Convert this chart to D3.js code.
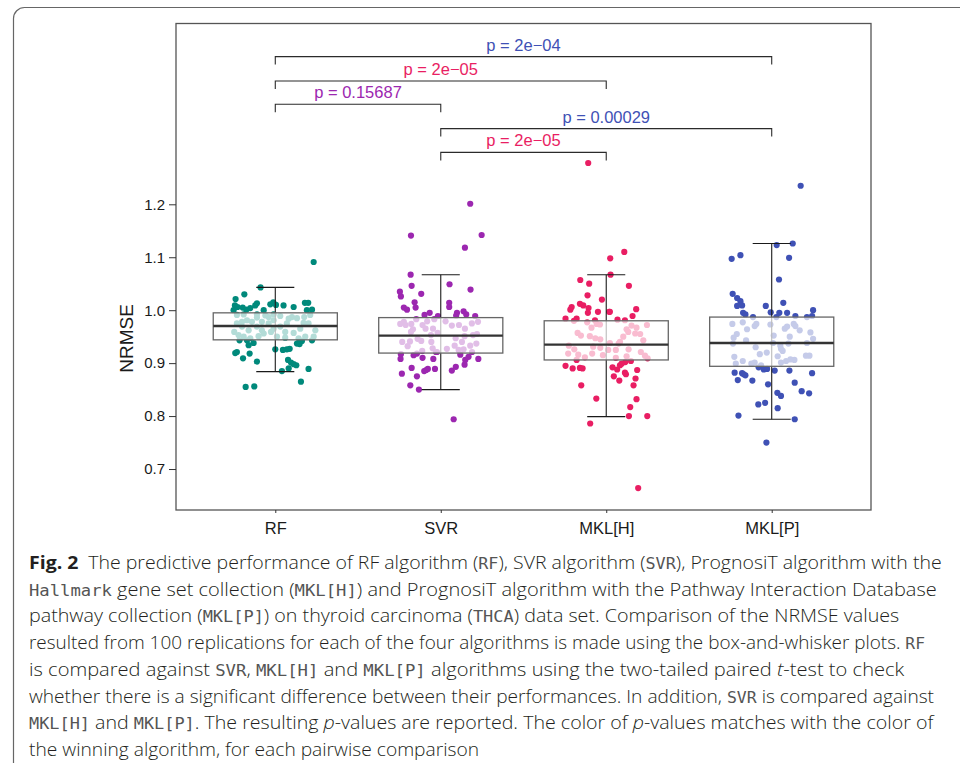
<!DOCTYPE html>
<html>
<head>
<meta charset="utf-8">
<script src="https://cdn.jsdelivr.net/npm/d3@7"></script>
<style>
  body { margin: 0; background: #fff; }
  svg { display: block; }
</style>
</head>
<body>
<svg id="chart" width="960" height="763"></svg>
<script>
var groups = ["RF", "SVR", "MKL[H]", "MKL[P]"];
var groupColors = ["#00897b", "#9c27b0", "#e91e63", "#3f51b5"];

// box-and-whisker stats
var boxQ1 = [0.944, 0.919, 0.906, 0.894];
var boxMedian = [0.970, 0.952, 0.935, 0.938];
var boxQ3 = [0.995, 0.986, 0.980, 0.987];
var whiskerLow = [0.884, 0.850, 0.799, 0.794];
var whiskerHigh = [1.043, 1.067, 1.067, 1.126];

// replications: [jitter (share of band step), NRMSE]
var rfPoints = [[0.232,1.091],[-0.089,1.043],[-0.187,1.030],[-0.240,1.021],[-0.244,1.009],[-0.228,1.006],[-0.197,1.005],[-0.175,1.001],[-0.151,1.004],[-0.121,1.009],[-0.111,1.013],[-0.030,1.011],[-0.012,1.015],[0.004,1.010],[0.050,1.009],[0.111,1.006],[0.179,1.014],[0.199,1.014],[0.191,1.000],[0.222,1.001],[-0.070,1.000],[-0.252,1.000],
  [-0.232,0.991],[-0.191,0.992],[-0.111,0.992],[-0.060,0.990],[-0.010,0.992],[0.030,0.989],[0.101,0.987],[0.131,0.985],[0.171,0.976],[0.201,0.975],[0.242,0.962],[0.232,0.950],[0.181,0.950],[0.141,0.947],[0.111,0.957],[0.060,0.959],[0.070,0.975],[0.030,0.969],[-0.010,0.981],[-0.040,0.975],[-0.081,0.978],[-0.111,0.986],[-0.141,0.978],[-0.171,0.981],[-0.201,0.978],[-0.232,0.975],[-0.248,0.959],[-0.222,0.953],[-0.191,0.950],[-0.151,0.947],[-0.101,0.951],[-0.070,0.956],[-0.026,0.959],[0.010,0.950],[0.060,0.948],[0.151,0.965],[-0.111,0.969],[-0.081,0.962],[-0.010,0.965],[0.081,0.984],[-0.040,0.987],[-0.201,0.969],[-0.161,0.962],[0.211,0.991],[0.175,0.987],
  [-0.232,0.921],[-0.242,0.919],[-0.155,0.918],[-0.195,0.909],[-0.111,0.903],[-0.161,0.934],[-0.131,0.938],[0.000,0.926],[0.046,0.925],[0.070,0.926],[0.087,0.927],[0.131,0.937],[0.147,0.936],[0.161,0.942],[0.077,0.906],[0.095,0.901],[0.111,0.898],[0.127,0.896],[0.081,0.890],[0.040,0.885],[0.201,0.889],[0.155,0.865],[-0.179,0.855],[-0.127,0.856],[-0.171,0.943],[-0.216,0.943],[0.222,0.943]];

var svrPoints = [[0.178,1.201],[-0.180,1.141],[0.247,1.142],[0.146,1.118],[-0.182,1.067],[0.053,1.049],[-0.176,1.046],[0.180,1.039],[-0.247,1.035],[-0.241,1.026],[-0.118,1.031],[-0.158,1.015],[-0.152,1.005],[-0.223,1.005],[-0.204,1.001],[0.051,1.014],[0.051,1.006],[-0.098,0.991],[-0.067,0.995],[0.098,0.995],[0.093,0.990],[0.138,0.998],[0.154,0.992],[0.208,0.989],
  [-0.245,0.974],[-0.223,0.978],[-0.212,0.972],[-0.178,0.974],[-0.168,0.964],[-0.180,0.959],[-0.148,0.983],[-0.110,0.972],[-0.092,0.965],[-0.082,0.979],[-0.039,0.983],[-0.047,0.965],[-0.019,0.957],[-0.059,0.953],[-0.233,0.940],[-0.200,0.932],[-0.186,0.941],[-0.140,0.946],[-0.118,0.942],[-0.057,0.940],[-0.049,0.928],[-0.112,0.923],[0.029,0.979],[0.067,0.971],[0.110,0.972],[0.146,0.965],[0.188,0.975],[0.225,0.978],[0.219,0.955],[0.195,0.953],[0.144,0.951],[0.090,0.947],[0.128,0.940],[0.178,0.933],[0.215,0.937],[0.084,0.933],[0.108,0.925],[0.037,0.927],[0.138,0.926],[-0.023,0.921],
  [-0.241,0.917],[-0.243,0.908],[-0.144,0.918],[-0.110,0.910],[-0.045,0.908],[-0.176,0.891],[-0.235,0.880],[-0.144,0.875],[-0.100,0.885],[-0.078,0.889],[-0.035,0.889],[-0.184,0.858],[-0.132,0.850],[0.078,0.794],[0.067,0.886],[0.091,0.893],[0.144,0.897],[0.148,0.906],[0.168,0.912],[0.227,0.908],[0.118,0.916],[0.189,0.921],[-0.029,0.921],[-0.088,0.887],[-0.164,0.915],[-0.017,0.989]];

var mklhPoints = [[-0.109,1.278],[0.109,1.110],[0.024,1.098],[0.026,1.067],[-0.157,1.057],[-0.103,1.050],[0.137,1.046],[-0.113,1.028],[-0.026,1.020],[-0.209,1.006],[-0.217,1.001],[-0.159,1.012],[-0.139,1.009],[-0.107,1.004],[-0.111,0.995],[-0.050,0.997],[0.018,0.997],[0.181,1.002],[0.159,0.989],[-0.246,0.984],[-0.179,0.984],[-0.068,0.981],[0.068,0.982],[0.113,0.981],
  [-0.195,0.980],[-0.115,0.977],[-0.089,0.967],[-0.058,0.974],[-0.038,0.973],[-0.173,0.957],[-0.153,0.952],[-0.099,0.951],[-0.066,0.947],[-0.036,0.945],[0.022,0.938],[-0.226,0.933],[-0.193,0.926],[-0.230,0.918],[-0.169,0.916],[-0.129,0.911],[-0.079,0.931],[-0.085,0.918],[-0.036,0.929],[-0.020,0.915],[0.012,0.925],[0.058,0.925],[0.058,0.910],[0.083,0.940],[0.103,0.950],[0.123,0.964],[0.133,0.959],[0.153,0.971],[0.175,0.956],[0.205,0.955],[0.183,0.967],[0.246,0.972],[0.224,0.943],[0.135,0.926],[0.123,0.913],[0.209,0.921],[0.234,0.914],[0.250,0.909],[0.075,0.937],
  [-0.246,0.895],[-0.203,0.890],[-0.159,0.891],[-0.143,0.890],[-0.179,0.906],[0.038,0.892],[0.066,0.888],[0.046,0.875],[0.079,0.867],[0.083,0.896],[0.113,0.882],[0.119,0.879],[0.115,0.902],[0.149,0.904],[0.187,0.887],[0.177,0.871],[0.165,0.858],[-0.151,0.858],[-0.060,0.833],[0.183,0.832],[0.145,0.817],[0.137,0.800],[0.248,0.800],[-0.097,0.786],[0.193,0.664],[0.022,0.997],[0.093,0.899]];

var mklpPoints = [[0.175,1.235],[0.030,1.123],[0.127,1.126],[-0.189,1.104],[-0.242,1.097],[0.105,1.099],[0.044,1.058],[-0.236,1.031],[-0.209,1.023],[-0.189,1.017],[-0.209,1.008],[-0.179,1.009],[-0.036,1.008],[0.070,1.014],[-0.173,0.995],[-0.159,0.992],[-0.006,0.996],[0.046,0.995],[0.093,0.995],[0.143,0.989],[0.213,0.987],[0.250,1.000],[0.244,0.989],
  [-0.238,0.974],[-0.175,0.977],[-0.113,0.987],[-0.103,0.970],[-0.093,0.974],[-0.149,0.964],[-0.211,0.955],[-0.230,0.948],[-0.234,0.937],[-0.155,0.943],[-0.097,0.930],[-0.072,0.917],[-0.030,0.920],[-0.226,0.912],[-0.217,0.899],[-0.175,0.904],[-0.123,0.899],[-0.103,0.901],[-0.064,0.896],[-0.008,0.973],[0.028,0.987],[0.012,0.952],[0.008,0.938],[0.052,0.933],[0.066,0.923],[0.036,0.913],[0.056,0.901],[0.079,0.965],[0.093,0.969],[0.109,0.950],[0.101,0.937],[0.133,0.974],[0.143,0.970],[0.169,0.962],[0.234,0.958],[0.250,0.946],[0.213,0.938],[0.207,0.914],[0.228,0.914],[0.087,0.904],[0.113,0.907],[0.137,0.906],[0.056,0.927],
  [-0.224,0.882],[-0.205,0.868],[-0.179,0.881],[-0.159,0.877],[-0.117,0.867],[-0.079,0.892],[-0.048,0.888],[-0.028,0.889],[-0.022,0.860],[0.018,0.886],[0.107,0.886],[0.139,0.863],[0.244,0.881],[0.034,0.844],[0.056,0.838],[0.181,0.847],[0.226,0.843],[-0.040,0.825],[-0.081,0.822],[0.036,0.815],[-0.201,0.801],[0.139,0.794],[-0.032,0.750],[-0.169,0.879]];

var pointSets = [rfPoints, svrPoints, mklhPoints, mklpPoints];

var yTicks = [0.7, 0.8, 0.9, 1.0, 1.1, 1.2];

// paired t-test comparisons
var compFrom = ["RF", "RF", "RF", "SVR", "SVR"];
var compTo = ["MKL[P]", "MKL[H]", "SVR", "MKL[P]", "MKL[H]"];
var compWinner = ["MKL[P]", "MKL[H]", "SVR", "MKL[P]", "MKL[H]"];
var compLabel = ["2e\u221204", "2e\u221205", "0.15687", "0.00029", "2e\u221205"];
var compY = [1.479, 1.433, 1.389, 1.343, 1.298];

var captionLines = [
  [["b", "Fig. 2"], ["r", "The predictive performance of RF algorithm (", 9], ["m", "RF"], ["r", "), SVR algorithm ("], ["m", "SVR"], ["r", "), PrognosiT algorithm with the"]],
  [["m", "Hallmark"], ["r", " gene set collection ("], ["m", "MKL[H]"], ["r", ") and PrognosiT algorithm with the Pathway Interaction Database"]],
  [["r", "pathway collection ("], ["m", "MKL[P]"], ["r", ") on thyroid carcinoma ("], ["m", "THCA"], ["r", ") data set. Comparison of the NRMSE values"]],
  [["r", "resulted from 100 replications for each of the four algorithms is made using the box-and-whisker plots. "], ["m", "RF"]],
  [["r", "is compared against "], ["m", "SVR"], ["r", ", "], ["m", "MKL[H]"], ["r", " and "], ["m", "MKL[P]"], ["r", " algorithms using the two-tailed paired "], ["i", "t"], ["r", "-test to check"]],
  [["r", "whether there is a significant difference between their performances. In addition, "], ["m", "SVR"], ["r", " is compared against"]],
  [["m", "MKL[H]"], ["r", " and "], ["m", "MKL[P]"], ["r", ". The resulting "], ["i", "p"], ["r", "-values are reported. The color of "], ["i", "p"], ["r", "-values matches with the color of"]],
  [["r", "the winning algorithm, for each pairwise comparison"]]
];
var captionEnds = [941.7, 936.7, 899.3, 925, 904.3, 934, 933.3, 479];

var svg = d3.select("#chart");
var margin = { top: 23.5, right: 89, bottom: 253, left: 176 };
var width = 960 - margin.left - margin.right;
var height = 763 - margin.top - margin.bottom;

// outer figure frame (rounded corner)
svg.append("rect")
  .attr("x", 13.5).attr("y", 7.5)
  .attr("width", 1000).attr("height", 800)
  .attr("rx", 11)
  .attr("fill", "none")
  .attr("stroke", "#666")
  .attr("stroke-width", 1.2);

var g = svg.append("g")
  .attr("transform", "translate(" + margin.left + "," + margin.top + ")");

var x = d3.scalePoint().domain(groups).range([0, width]).padding(0.6);
var step = x.step();
var y = d3.scaleLinear().domain([0.6226, 1.5415]).range([height, 0]);

// jittered points
pointSets.forEach(function(pts, i) {
  g.append("g").selectAll("circle")
    .data(pts)
    .enter()
    .append("circle")
    .attr("cx", d => x(groups[i]) + d[0] * step)
    .attr("cy", d => y(d[1]))
    .attr("r", 3.1)
    .attr("fill", groupColors[i]);
});

// whiskers with caps
var capHalf = 0.115 * step;
var boxHalf = 0.375 * step;
groups.forEach(function(grp, i) {
  var cx = x(grp);
  var wg = g.append("g").attr("stroke", "#1a1a1a").attr("stroke-width", 1.1);
  wg.append("line").attr("x1", cx).attr("x2", cx).attr("y1", y(whiskerLow[i])).attr("y2", y(whiskerHigh[i]));
  wg.append("line").attr("x1", cx - capHalf).attr("x2", cx + capHalf).attr("y1", y(whiskerLow[i])).attr("y2", y(whiskerLow[i]));
  wg.append("line").attr("x1", cx - capHalf).attr("x2", cx + capHalf).attr("y1", y(whiskerHigh[i])).attr("y2", y(whiskerHigh[i]));
});

// boxes: translucent white fill over the points
groups.forEach(function(grp, i) {
  var cx = x(grp);
  g.append("rect")
    .attr("x", cx - boxHalf)
    .attr("y", y(boxQ3[i]))
    .attr("width", boxHalf * 2)
    .attr("height", y(boxQ1[i]) - y(boxQ3[i]))
    .attr("fill", "#fff")
    .attr("fill-opacity", 0.7)
    .attr("stroke", "#666")
    .attr("stroke-width", 1.3);
  g.append("line")
    .attr("x1", cx - boxHalf).attr("x2", cx + boxHalf)
    .attr("y1", y(boxMedian[i])).attr("y2", y(boxMedian[i]))
    .attr("stroke", "#333")
    .attr("stroke-width", 2.4);
});

// comparison brackets
compFrom.forEach(function(from, k) {
  var x1 = x(from), x2 = x(compTo[k]), yy = y(compY[k]);
  g.append("path")
    .attr("d", "M" + x1 + "," + (yy + 8) + "V" + yy + "H" + x2 + "V" + (yy + 8))
    .attr("fill", "none")
    .attr("stroke", "#2b2b2b")
    .attr("stroke-width", 1.1);
  g.append("text")
    .attr("x", (x1 + x2) / 2)
    .attr("y", yy - 6)
    .attr("text-anchor", "middle")
    .style("font-family", "'Liberation Sans', Arial, sans-serif")
    .style("font-size", "16.5px")
    .attr("fill", groupColors[groups.indexOf(compWinner[k])])
    .text("p = " + compLabel[k]);
});

// panel border
g.append("rect")
  .attr("x", 0).attr("y", 0)
  .attr("width", width).attr("height", height)
  .attr("fill", "none")
  .attr("stroke", "#555")
  .attr("stroke-width", 1.3);

// axes
var yAxis = g.append("g")
  .call(d3.axisLeft(y).tickValues(yTicks).tickSize(7).tickPadding(4).tickFormat(d3.format(".1f")));
yAxis.select(".domain").remove();
yAxis.selectAll("line").attr("stroke", "#333");
yAxis.selectAll("text")
  .style("font-family", "'Liberation Sans', Arial, sans-serif")
  .style("font-size", "15px")
  .attr("fill", "#1a1a1a");

var xAxis = g.append("g")
  .attr("transform", "translate(0," + height + ")")
  .call(d3.axisBottom(x).tickSize(3).tickPadding(9));
xAxis.select(".domain").remove();
xAxis.selectAll("line").attr("stroke", "#333");
xAxis.selectAll("text")
  .style("font-family", "'Liberation Sans', Arial, sans-serif")
  .style("font-size", "16.5px")
  .attr("fill", "#1a1a1a");

svg.append("text")
  .attr("transform", "translate(133,338.5) rotate(-90)")
  .attr("text-anchor", "middle")
  .style("font-family", "'Liberation Sans', Arial, sans-serif")
  .style("font-size", "19px")
  .attr("fill", "#1a1a1a")
  .text("NRMSE");

// caption
var capX = 29, capY0 = 569, capLead = 26.7;
captionLines.forEach(function(line, li) {
  var t = svg.append("text")
    .attr("x", capX)
    .attr("y", capY0 + li * capLead)
    .attr("textLength", captionEnds[li] - capX)
    .attr("lengthAdjust", "spacingAndGlyphs")
    .style("font-size", "18px")
    .attr("fill", "#231f20");
  line.forEach(function(seg) {
    var ts = t.append("tspan").text(seg[1]);
    if (seg[2]) ts.attr("dx", seg[2]);
    if (seg[0] === "m") {
      ts.style("font-family", "'DejaVu Sans Mono', 'Liberation Mono', monospace")
        .style("font-size", "15.5px")
        .style("font-weight", "normal")
        .attr("fill", "#555");
    } else {
      ts.style("font-family", "'Open Sans', 'Noto Sans', sans-serif")
        .style("font-weight", seg[0] === "b" ? "bold" : "300");
      if (seg[0] === "i") ts.style("font-style", "italic");
    }
  });
});
</script>
</body>
</html>
